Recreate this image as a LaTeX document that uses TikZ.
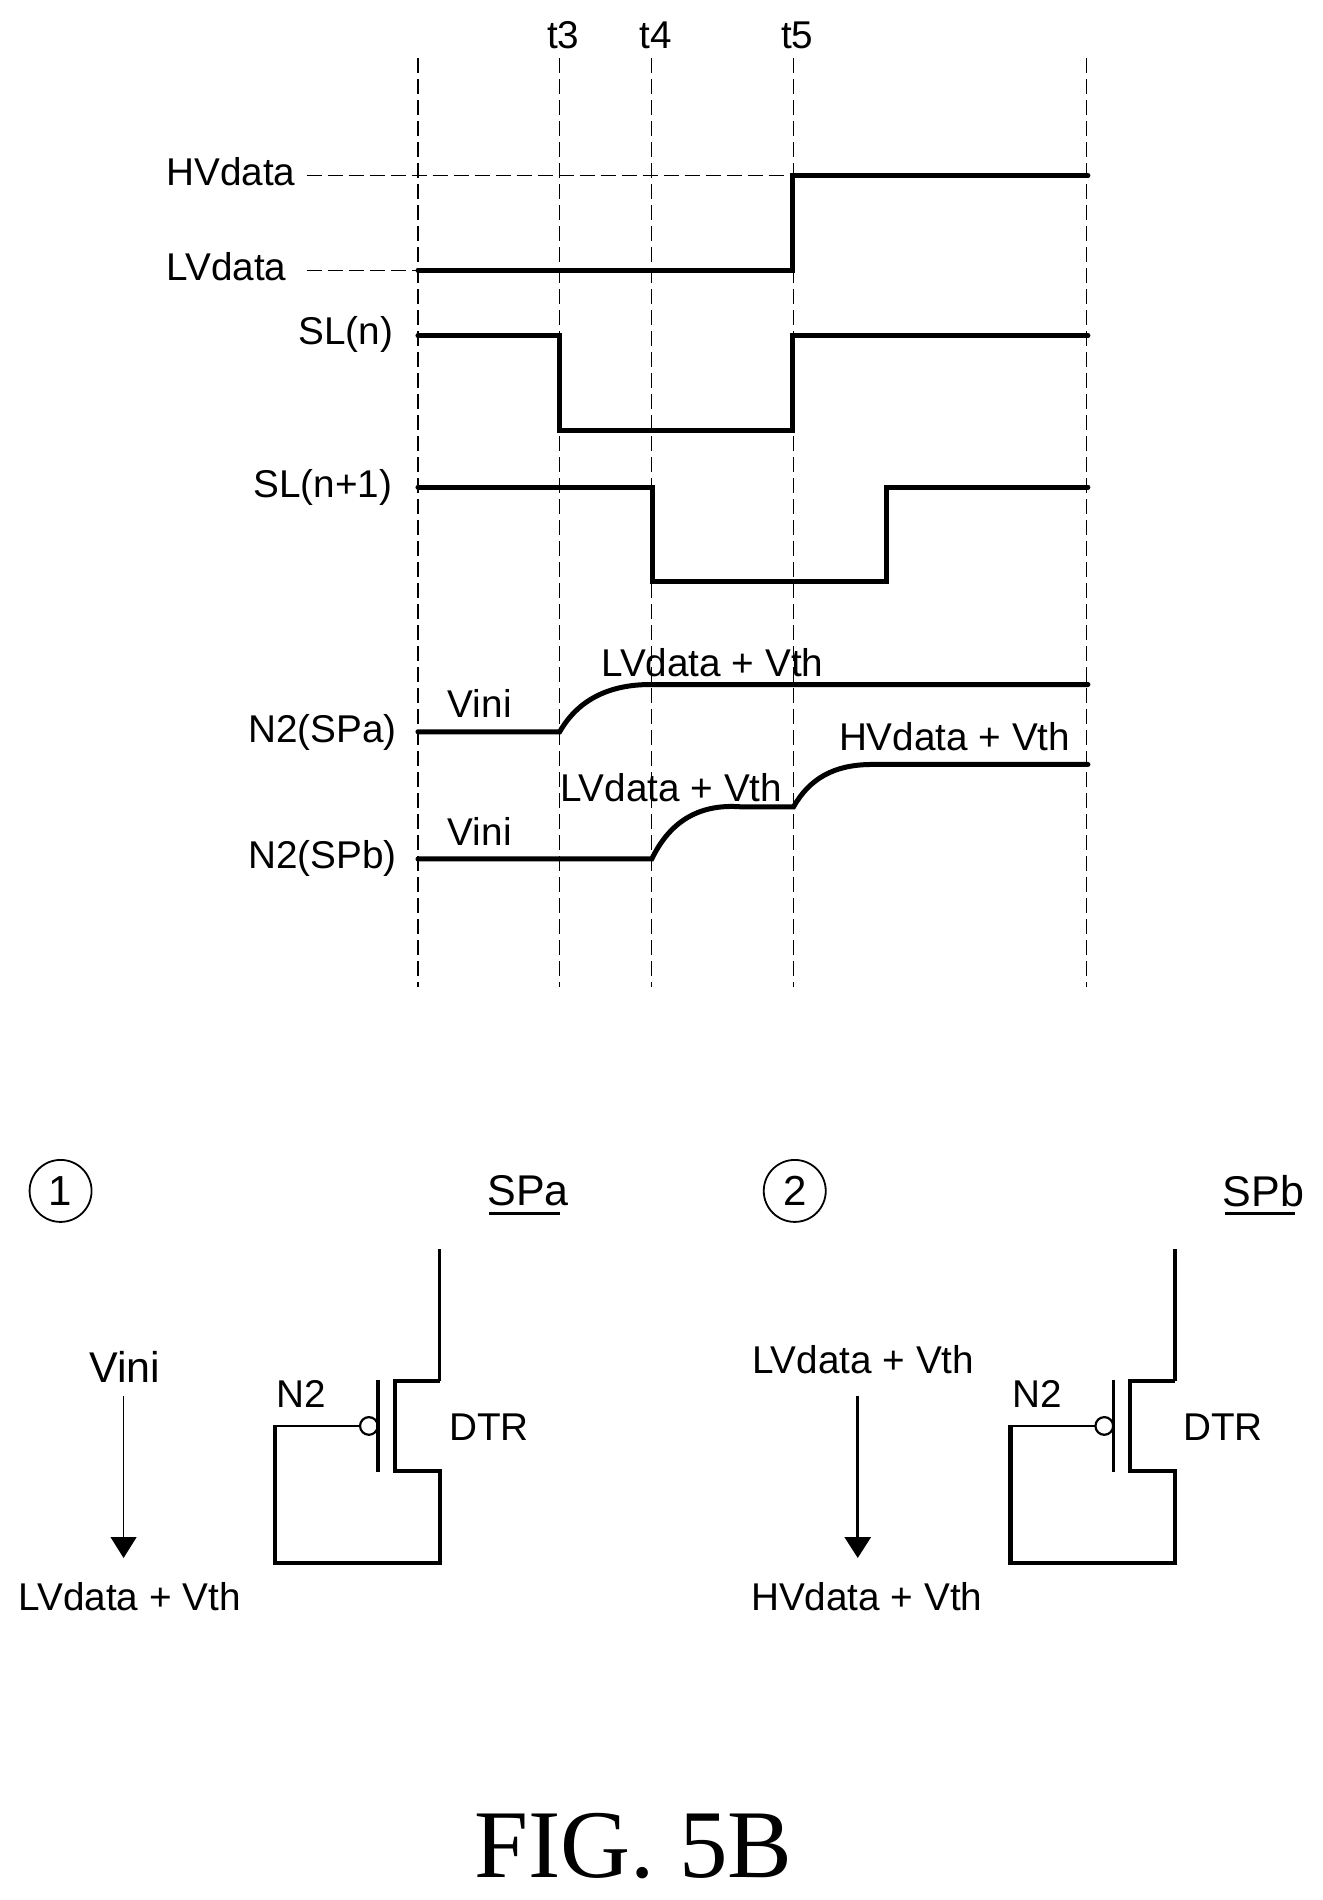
\documentclass[tikz,border=0pt]{standalone}
\usepackage{fontspec}
\setmainfont{Liberation Sans}
\newfontfamily\titlefont{Liberation Serif}
\usetikzlibrary{arrows.meta}
\tikzset{
 lbl/.style={inner sep=0pt,font=\fontsize{38.7}{40}\selectfont},
 biglbl/.style={inner sep=0pt,font=\fontsize{43}{45}\selectfont},
 guide/.style={line width=1.2pt,dash pattern=on 15pt off 6pt,black},
 wave/.style={line width=5pt,line join=miter,line cap=round,black},
 wire/.style={line width=4.2pt,line join=miter,black},
 flow/.style={-{Triangle[length=21pt,width=26pt]},black},
 num/.style={circle,draw,line width=1.8pt,minimum size=62pt,inner sep=0pt,font=\fontsize{42}{44}\selectfont},
}
\newcommand{\dtr}[4]{%
 \begin{scope}[xshift=#1*1.2115pt]
  \coordinate (#2top) at (363,1031);
  \coordinate (#2gate) at (297,1177);
  \coordinate (#2ret) at (227,1177);
  \draw[wire,line width=3.4pt] (#2top) -- (363,1140);
  \draw[wire] (363,1140) -- (326,1140) -- (326,1214) -- (363,1214) -- (363,1290) -- (227,1290) -- (227,1176);
  \draw[line width=2.8pt] (#2ret) -- (#2gate);
  \draw[line width=3.2pt] (312,1139) -- (312,1215);
  \draw[line width=2.2pt] (304.5,1177) circle (7.3);
  \node[lbl] (#2n) at (#3,1151) {N2};
  \node[lbl] (#2d) at (#4,1178) {DTR};
 \end{scope}}
\begin{document}
\begin{tikzpicture}[x=1.2115pt,y=-1.2115pt]
\useasboundingbox (0,0) rectangle (1092,1568.3);
\fill[white] (0,0) rectangle (1092,1568.3);
% time labels
\node[lbl] (t3) at (465,29) {t3};
\node[lbl] (t4) at (541,29) {t4};
\node[lbl] (t5) at (658,29) {t5};
% vertical guides
\foreach \x in {345,462,538,655,897} \draw[guide] (\x,48) -- (\x,815);
% level guides
\coordinate (hvs) at (253,145);
\coordinate (lvs) at (253,223);
\draw[guide] (hvs) -- (655,145);
\draw[guide] (lvs) -- (345,223);
% waveforms
\draw[wave] (345,223) -- (654.5,223) -- (654.5,145) -- (898,145);
\draw[wave] (345,277) -- (461.5,277) -- (461.5,355) -- (654.5,355) -- (654.5,277) -- (898,277);
\draw[wave] (345,402) -- (538.5,402) -- (538.5,480) -- (732,480) -- (732,402) -- (898,402);
\draw[wave] (345,604) -- (462,604) .. controls (478,576) and (505,565) .. (537,565) -- (898,565);
\draw[wave] (345,709) -- (538,709) .. controls (552,680) and (575,663) .. (612,666) -- (655,666) .. controls (668,643) and (688,631) .. (720,631) -- (898,631);
% wave labels
\node[lbl] (hv) at (190.5,142) {HVdata};
\node[lbl] (lv) at (187,220) {LVdata};
\node[lbl] (sln) at (285.5,276) {SL(n)};
\node[lbl] (slm) at (266.5,402) {SL(n+1)};
\node[lbl] (na) at (266,605) {N2(SPa)};
\node[lbl] (nb) at (266,709) {N2(SPb)};
\node[lbl] (va) at (396,581) {Vini};
\node[lbl] (vb) at (396,686) {Vini};
\node[lbl] (la) at (588,547) {LVdata + Vth};
\node[lbl] (lb) at (554,650) {LVdata + Vth};
\node[lbl] (hb) at (788,608) {HVdata + Vth};
% lower part
\node[num] (c1) at (50,983) {1};
\node[num] (c2) at (656,983) {2};
\node[biglbl] (spa) at (436,983) {SPa};
\node[biglbl] (spb) at (1043,983) {SPb};
\draw[line width=2.4pt] (404,1001.5) -- (462,1001.5);
\draw[line width=2.4pt] (1011,1001.5) -- (1069,1001.5);
\node[biglbl] (v1) at (103,1128) {Vini};
\node[lbl] (l1) at (107,1318) {LVdata + Vth};
\node[lbl] (l2) at (712.5,1122) {LVdata + Vth};
\node[lbl] (h2) at (715.5,1318) {HVdata + Vth};
\coordinate (a1s) at (102,1152);
\coordinate (a1e) at (102,1286);
\coordinate (a2s) at (708,1152);
\coordinate (a2e) at (708,1286);
\draw[flow,line width=1.1pt] (a1s) -- (a1e);
\draw[flow,line width=3.2pt] (a2s) -- (a2e);
\dtr{0}{p}{249}{403.5}
\dtr{607}{q}{249}{402.5}
% title
\node[inner sep=0pt,font=\titlefont\fontsize{97}{100}\selectfont] (fig) at (523,1524) {FIG. 5B};
\end{tikzpicture}
\end{document}
